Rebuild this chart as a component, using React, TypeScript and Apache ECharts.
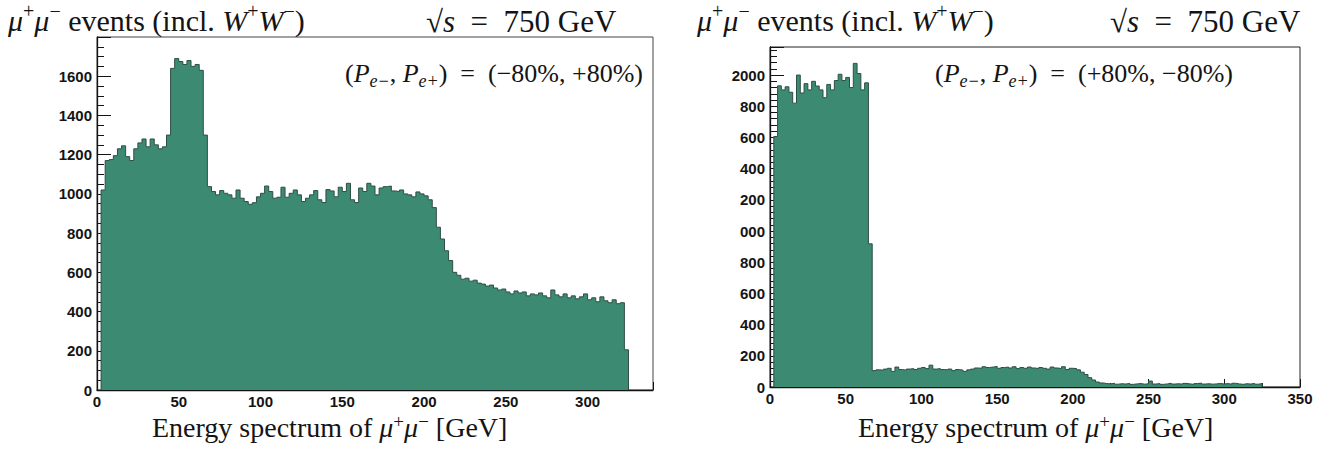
import React, { useEffect, useRef } from "react";
import * as echarts from "echarts";

// ---------- data ----------
const BIN_WIDTH = 2.5; // GeV
const FIRST_EDGE = 2.5; // GeV

// (P_e-, P_e+) = (-80%, +80%)
const leftCounts = [
  1020, 1170, 1175, 1195, 1230, 1245, 1190, 1170, 1230, 1260,
  1280, 1240, 1280, 1250, 1230, 1240, 1300, 1640, 1690, 1675,
  1660, 1680, 1650, 1660, 1630, 1300,
  1037, 1012, 995, 1017, 1003, 995, 978, 1020, 978, 961,
  947, 955, 985, 1003, 1040, 1012, 978, 983, 1034, 983,
  1003, 1020, 995, 961, 978, 995, 1017, 970, 956, 1022,
  1015, 985, 1034, 1012, 1054, 970, 956, 1030, 1012, 1054,
  1040, 995, 1030, 1037, 1040, 1015, 1012, 1020, 1000, 995,
  985, 1010, 1000, 990, 970,
  930, 830, 770, 710, 660, 600, 585,
  565, 570, 555, 560, 545, 540, 530, 535, 520, 510,
  515, 500, 490, 505, 495, 500, 480, 490, 485, 495,
  480, 470, 510, 485, 475, 490, 470, 480, 465, 475,
  490, 460, 470, 450, 475, 455, 445, 460, 440, 445,
  205,
];

// (P_e-, P_e+) = (+80%, -80%)
const rightCounts = [
  1606, 1931, 1905, 1925, 1890, 1820, 2000, 1885, 1945, 1905,
  1960, 1930, 1905, 1855, 1940, 1905, 1965, 2005, 1965, 1985,
  1920, 2075, 2010, 1905, 1950, 918,
  105, 110, 108, 115, 120, 100, 128, 112, 108, 115,
  118, 112, 120, 125, 118, 140, 115, 118, 112, 110,
  115, 105, 112, 108, 100, 110, 115, 122, 120, 130,
  125, 128, 132, 120, 125, 128, 122, 130, 118, 125,
  120, 128, 122, 118, 125, 120, 115, 128, 122, 118,
  130, 112, 120,
  118, 110, 95, 80, 60, 45, 32,
  26, 22, 20, 24, 18, 21, 19, 23, 17, 20,
  22, 18, 21, 38, 19, 22, 17, 20, 24, 19,
  21, 18, 23, 20, 17, 22, 25, 19, 21, 18,
  20, 23, 19, 22, 18, 24, 20, 17, 21, 19,
  23, 18, 22,
];

const leftXTicks = { min: 0, max: 340, interval: 50 };
const rightXTicks = { min: 0, max: 350, interval: 50 };
const leftYTicks = { min: 0, max: 1800, interval: 200 };
const rightYTicks = { min: 0, max: 2180, interval: 200 };

// ---------- helpers ----------
function stepData(counts: number[]) {
  const pts: [number, number][] = [[FIRST_EDGE, 0]];
  counts.forEach((c, i) => pts.push([FIRST_EDGE + i * BIN_WIDTH, c]));
  pts.push([FIRST_EDGE + counts.length * BIN_WIDTH, 0]);
  return pts;
}

const SERIF = "'Liberation Serif', 'DejaVu Serif', serif";
const SANS = "'Liberation Sans', Arial, sans-serif";
const INK = "#141414";
const FILL = "#3c8a72";
const EDGE = "#2c4f45";

function rich(fs: number, lh: number) {
  return {
    rm: { fontFamily: SERIF, fontSize: fs, color: INK, lineHeight: Math.round(fs * lh) },
    mi: { fontFamily: SERIF, fontStyle: "italic", fontSize: fs, color: INK, lineHeight: Math.round(fs * lh) },
    sup: { fontFamily: SERIF, fontSize: Math.round(fs * 0.68), color: INK, verticalAlign: "top", lineHeight: Math.round(fs * 0.75) },
    sub: { fontFamily: SERIF, fontStyle: "italic", fontSize: Math.round(fs * 0.68), color: INK, verticalAlign: "bottom", lineHeight: Math.round(fs * 0.75) },
  };
}

const eventsTitle = "{mi|μ}{sup|+}{mi|μ}{sup|−}{rm| events (incl. }{mi|W}{sup|+}{mi|W}{sup|−}{rm|)}";
const sqrtTitle = "{rm|√}{mi|s}{rm|  =  750 GeV}";
const axisTitle = "{rm|Energy spectrum of }{mi|μ}{sup|+}{mi|μ}{sup|−}{rm| [GeV]}";
const polLeft = "{rm|(}{mi|P}{sub|e−}{rm|, }{mi|P}{sub|e+}{rm|)  =  (−80%, +80%)}";
const polRight = "{rm|(}{mi|P}{sub|e−}{rm|, }{mi|P}{sub|e+}{rm|)  =  (+80%, −80%)}";

function title(text: string, left: number, top: number, fs: number, lh = 1.3) {
  return {
    text,
    left,
    top,
    padding: 0,
    textStyle: { fontFamily: SERIF, fontSize: fs, color: INK, fontWeight: "normal", rich: rich(fs, lh) },
  };
}

function xAxis(grid: number, t: { min: number; max: number; interval: number }, showMax: boolean) {
  return {
    type: "value",
    gridIndex: grid,
    min: t.min,
    max: t.max,
    interval: t.interval,
    axisLine: { show: true, lineStyle: { color: INK, width: 1.3 } },
    axisTick: { show: true, inside: true, length: 8, lineStyle: { color: INK } },
    minorTick: { show: true, splitNumber: 2, length: 4, lineStyle: { color: INK } },
    splitLine: { show: false },
    axisLabel: {
      fontFamily: SANS,
      fontWeight: "bold",
      fontSize: 15,
      color: INK,
      margin: 4,
      showMaxLabel: showMax,
      formatter: (v: number) => String(v),
    },
  };
}

function yAxis(grid: number, t: { min: number; max: number; interval: number }, split: number, fmt: (v: number) => string) {
  return {
    type: "value",
    gridIndex: grid,
    min: t.min,
    max: t.max,
    interval: t.interval,
    axisLine: { show: true, lineStyle: { color: INK, width: 1.3 } },
    axisTick: { show: true, inside: true, length: 14, lineStyle: { color: INK } },
    minorTick: { show: true, splitNumber: split, length: 7, lineStyle: { color: INK } },
    splitLine: { show: false },
    axisLabel: {
      fontFamily: SANS,
      fontWeight: "bold",
      fontSize: 15,
      color: INK,
      margin: 5,
      showMaxLabel: false,
      formatter: fmt,
    },
  };
}

function histSeries(counts: number[], idx: number) {
  return {
    type: "line",
    xAxisIndex: idx,
    yAxisIndex: idx,
    step: "end",
    symbol: "none",
    silent: true,
    data: stepData(counts),
    lineStyle: { color: EDGE, width: 1 },
    areaStyle: { color: FILL, opacity: 1 },
  };
}

export default function App() {
  const ref = useRef<HTMLDivElement>(null);
  useEffect(() => {
    if (!ref.current) return;
    const chart = echarts.init(ref.current, undefined, { renderer: "svg" });
    chart.setOption({
      animation: false,
      backgroundColor: "#ffffff",
      title: [
        title(eventsTitle, 8, 1, 30),
        title(sqrtTitle, 426, 1, 31),
        title(eventsTitle, 697, 1, 30),
        title(sqrtTitle, 1110, 1, 31),
        title(polLeft, 345, 56, 26),
        title(polRight, 935, 56, 26),
        title(axisTitle, 152, 412, 28, 1.1),
        title(axisTitle, 858, 412, 28, 1.1),
      ],
      grid: [
        { left: 97, top: 37, width: 556, height: 353, show: true, borderColor: "#444", borderWidth: 1, backgroundColor: "transparent" },
        { left: 770, top: 47, width: 530, height: 340, show: true, borderColor: "#222", borderWidth: 1, backgroundColor: "transparent" },
      ],
      xAxis: [xAxis(0, leftXTicks, false), xAxis(1, rightXTicks, true)],
      yAxis: [
        yAxis(0, leftYTicks, 4, (v: number) => String(v)),
        yAxis(1, rightYTicks, 5, (v: number) => (v >= 1000 && v < 2000 ? String(v).slice(1) : String(v))),
      ],
      series: [histSeries(leftCounts, 0), histSeries(rightCounts, 1)],
    });
    return () => chart.dispose();
  }, []);
  return (
    <div
      ref={ref}
      style={{ position: "absolute", left: 0, top: 0, width: 1338, height: 450 }}
    />
  );
}
